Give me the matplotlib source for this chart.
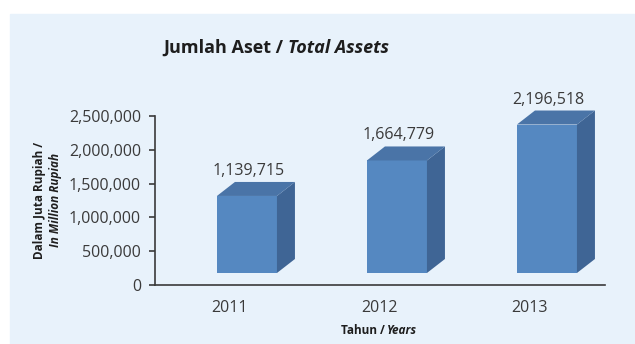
import matplotlib

matplotlib.use("Agg")
import matplotlib.pyplot as plt
from matplotlib.patches import Rectangle
from matplotlib.ticker import FuncFormatter

years = ["2011", "2012", "2013"]
assets = [1139715, 1664779, 2196518]
yticks = [0, 500000, 1000000, 1500000, 2000000, 2500000]

W, H = 635, 344
FONT = "Open Sans"
DARK = "#3a3a3a"
PANEL = "#e8f2fb"
FRONT = "#5588c1"
SIDE = "#3f6595"
TOP = "#4a74a7"

plt.rcParams["font.family"] = [FONT, "DejaVu Sans"]

fig = plt.figure(figsize=(W / 100, H / 100), dpi=100)
fig.patch.set_facecolor("white")
fig.add_artist(Rectangle((10 / W, 0), 1 - 10 / W, (H - 14) / H,
                         transform=fig.transFigure, color=PANEL, zorder=0))

ax = fig.add_axes([155 / W, (H - 285) / H, 450 / W, 169 / H])
ax.set_facecolor("none")
ax.set_xlim(-0.5, 2.5)
ax.set_ylim(0, 2500000)

# pseudo-3D boxes: front face lifted off the floor, with a top and side face
px_y = 2500000 / 169          # data units per pixel, vertical
base = 12 * px_y
dy = 14 * px_y
dx = 18 / 150
x0, bw = -0.087, 0.40

for i, v in enumerate(assets):
    xl = i + x0
    xr = xl + bw
    top = base + v
    ax.bar(xl, v, width=bw, bottom=base, align="edge", color=FRONT,
           linewidth=0, zorder=3, clip_on=False)
    ax.fill([xr, xr + dx, xr + dx, xr], [base, base + dy, top + dy, top],
            color=SIDE, linewidth=0, zorder=3, clip_on=False)
    ax.fill([xl, xl + dx, xr + dx, xr], [top, top + dy, top + dy, top],
            color=TOP, linewidth=0, zorder=3, clip_on=False)
    ax.text(xl + bw / 2 + 0.01, top + dy + 11 * px_y, f"{v:,}",
            ha="center", va="center", fontsize=11.5, color=DARK, zorder=4)

ax.set_xticks(range(len(years)))
ax.set_xticklabels(years)
ax.set_yticks(yticks)
ax.yaxis.set_major_formatter(FuncFormatter(lambda v, _: f"{int(v):,}"))
ax.tick_params(axis="x", length=0, pad=11, labelsize=11.5, labelcolor=DARK)
ax.tick_params(axis="y", length=4, width=1.2, color=DARK, pad=6,
               labelsize=11.5, labelcolor=DARK, direction="out")
for s in ("top", "right"):
    ax.spines[s].set_visible(False)
for s in ("left", "bottom"):
    ax.spines[s].set_color(DARK)
    ax.spines[s].set_linewidth(1.2)

renderer = fig.canvas.get_renderer()


def mixed_title(cx, cy, parts, size, gap):
    """Centre a row of differently styled pieces on pixel point (cx, cy)."""
    items = []
    for s, style in parts:
        t = fig.text(0, 0, s, fontsize=size, fontweight="bold", fontstyle=style,
                     color="#1e1e1e", va="center", ha="left")
        items.append(t)
    widths = [t.get_window_extent(renderer).width for t in items]
    total = sum(widths) + gap * (len(items) - 1)
    x = cx - total / 2
    for t, w in zip(items, widths):
        t.set_position((x / W, (H - cy) / H))
        x += w + gap


mixed_title(276, 48, [("Jumlah Aset /", "normal"), ("Total Assets", "italic")], 13, 5)
mixed_title(379, 331, [("Tahun /", "normal"), ("Years", "italic")], 8.5, 3)

fig.text(40 / W, (H - 200) / H, "Dalam Juta Rupiah /", rotation=90, fontsize=8.5,
         fontweight="bold", color="#1e1e1e", ha="center", va="center")
fig.text(55 / W, (H - 200) / H, "In Million Rupiah", rotation=90, fontsize=8.5,
         fontweight="bold", fontstyle="italic", color="#1e1e1e",
         ha="center", va="center")

fig.savefig("out.png", dpi=100)
